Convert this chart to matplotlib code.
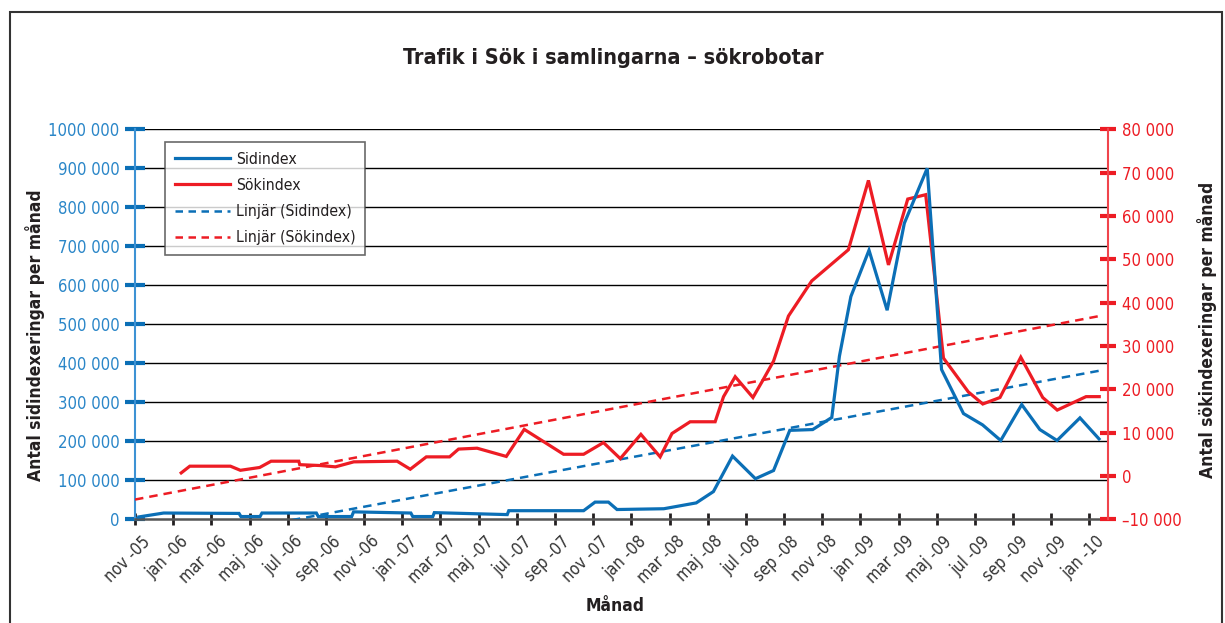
import matplotlib
matplotlib.use("Agg")
import matplotlib.pyplot as plt
import matplotlib.transforms as mtransforms
from matplotlib.patches import Rectangle
from matplotlib.lines import Line2D

plt.rcParams["font.family"] = ["DejaVu Sans"]
plt.rcParams["font.stretch"] = "condensed"

BLUE = "#0b6fb6"
BLUE_TXT = "#2a86c8"
RED = "#ed1c24"
DARK = "#231f20"

# x = months after nov-05 (date axis, points are not evenly spaced)
month_labels = [
    "nov -05", "jan -06", "mar -06", "maj -06", "jul -06", "sep -06",
    "nov -06", "jan -07", "mar -07", "maj -07", "jul -07", "sep -07",
    "nov -07", "jan -08", "mar -08", "maj -08", "jul -08", "sep -08",
    "nov -08", "jan -09", "mar -09", "maj -09", "jul -09", "sep -09",
    "nov -09", "jan -10",
]

sid_x = [0.2, 1.5, 5.45, 5.55, 6.55, 6.65, 9.5, 9.6, 11.35, 11.45, 14.45,
         14.55, 15.6, 15.68, 19.5, 19.58, 23.5, 24.1, 24.8, 25.25, 27.7,
         29.4, 30.3, 31.3, 32.5, 33.45, 34.3, 35.5, 36.5, 36.9, 37.5, 38.45,
         39.4, 40.3, 41.5, 42.25, 43.4, 44.4, 45.35, 46.45, 47.4, 48.3,
         49.5, 50.5]
sid_y = [6000, 16000, 15000, 7000, 7000, 16000, 16000, 7000, 7000, 19000,
         16000, 7000, 7000, 17000, 12000, 22000, 22000, 44000, 44000, 25000,
         27000, 42000, 71000, 162000, 104000, 125000, 228000, 230000, 261000,
         418000, 571000, 690000, 536000, 759000, 900000, 384000, 271000,
         242000, 202000, 294000, 230000, 202000, 260000, 206000]

sok_x = [2.42, 2.87, 5.0, 5.52, 6.53, 7.13, 8.58, 8.63, 9.71, 10.5, 11.46,
         13.73, 14.42, 15.26, 16.48, 16.95, 17.92, 19.45, 20.39, 22.45, 23.5,
         24.54, 25.42, 26.5, 27.51, 28.13, 29.08, 30.39, 30.83, 31.44, 32.37,
         32.84, 33.45, 34.23, 35.45, 37.37, 38.42, 39.47, 40.48, 41.42, 42.35,
         43.65, 44.41, 45.31, 46.4, 47.55, 48.31, 49.82, 50.51]
sok_y = [700, 2250, 2250, 1300, 1950, 3400, 3400, 2600, 2400, 2100, 3250,
         3400, 1550, 4400, 4400, 6200, 6400, 4500, 10750, 5000, 5000, 7700,
         4000, 9600, 4400, 9800, 12500, 12500, 18300, 22900, 18100, 21700,
         26500, 36900, 45000, 52200, 68200, 48700, 63900, 64900, 27200, 19400,
         16600, 18100, 27400, 18100, 15200, 18300, 18300]

# linear trend lines, endpoints
trend_x = [0, 50.64]
sid_trend = [-76500, 382000]
sok_trend = [-5450, 37000]

left_ticks = [0, 100000, 200000, 300000, 400000, 500000, 600000, 700000,
              800000, 900000, 1000000]
left_labels = ["0", "100 000", "200 000", "300 000", "400 000", "500 000",
               "600 000", "700 000", "800 000", "900 000", "1000 000"]
right_ticks = [-10000, 0, 10000, 20000, 30000, 40000, 50000, 60000, 70000,
               80000]
right_labels = ["–10 000", "0", "10 000", "20 000", "30 000", "40 000",
                "50 000", "60 000", "70 000", "80 000"]

fig = plt.figure(figsize=(12.25, 6.23), dpi=100)
ax = fig.add_axes([0.1102, 0.1665, 0.7943, 0.626])
ax2 = ax.twinx()

ax.set_xlim(0, 50.97)
ax.set_ylim(0, 1000000)
ax2.set_ylim(-10000, 80000)

for v in left_ticks[1:]:
    ax.axhline(v, color="black", lw=1.0, zorder=0.5)

ax2.plot(trend_x, sid_trend, color=BLUE, lw=1.8, dashes=(3.4, 2.4),
         transform=ax.transData, zorder=2)
ax2.plot(trend_x, sok_trend, color=RED, lw=1.8, dashes=(3.4, 2.4), zorder=2)
ax2.plot(sok_x, sok_y, color=RED, lw=2.3, zorder=3, solid_joinstyle="miter")
ax2.plot(sid_x, sid_y, color=BLUE, lw=2.3, transform=ax.transData, zorder=4,
         solid_joinstyle="miter")

# axes styling
for a in (ax, ax2):
    a.spines["top"].set_visible(False)
ax.spines["right"].set_visible(False)
ax2.spines["left"].set_visible(False)
ax2.spines["bottom"].set_visible(False)
ax.spines["left"].set_color("#3d92d4")
ax.spines["left"].set_linewidth(1.5)
ax2.spines["right"].set_color("#f0444c")
ax2.spines["right"].set_linewidth(1.5)
ax.spines["bottom"].set_color("#555555")
ax.spines["bottom"].set_linewidth(1.8)

ax.set_yticks(left_ticks)
ax.set_yticklabels(left_labels)
ax.tick_params(axis="y", direction="inout", length=14, width=3, color=BLUE,
               labelcolor=BLUE_TXT, labelsize=12, pad=4)
ax2.set_yticks(right_ticks)
ax2.set_yticklabels(right_labels)
ax2.tick_params(axis="y", direction="inout", length=12, width=3, color=RED,
                labelcolor=RED, labelsize=12, pad=4)

ax.set_xticks(range(0, 51, 2))
ax.set_xticklabels(month_labels, rotation=45, ha="right",
                   rotation_mode="anchor")
ax.tick_params(axis="x", direction="inout", length=9, width=2, color=DARK,
               labelcolor="#333333", labelsize=12, pad=5)
shift = mtransforms.ScaledTranslation(6 / 100, 0, fig.dpi_scale_trans)
for lbl in ax.get_xticklabels():
    lbl.set_transform(lbl.get_transform() + shift)

fig.text(0.0285, 0.462, "Antal sidindexeringar per månad", rotation=90,
         ha="center", va="center", fontsize=12.5, fontweight="bold",
         color=DARK)
fig.text(0.985, 0.47, "Antal sökindexeringar per månad", rotation=90,
         ha="center", va="center", fontsize=12.5, fontweight="bold",
         color=DARK)
fig.text(0.502, 0.028, "Månad", ha="center", va="center", fontsize=12.5,
         fontweight="bold", color=DARK)
fig.text(0.501, 0.898, "Trafik i Sök i samlingarna – sökrobotar",
         ha="center", va="baseline", fontsize=15.5, fontweight="bold",
         color=DARK)

handles = [
    Line2D([], [], color=BLUE, lw=2.3),
    Line2D([], [], color=RED, lw=2.3),
    Line2D([], [], color=BLUE, lw=1.8, dashes=(3, 2.2)),
    Line2D([], [], color=RED, lw=1.8, dashes=(3, 2.2)),
]
names = ["Sidindex", "Sökindex", "Linjär (Sidindex)", "Linjär (Sökindex)"]
leg = ax2.legend(handles, names, loc="upper left",
                 bbox_to_anchor=(0.031, 0.967), fontsize=11.3,
                 frameon=True, fancybox=False, edgecolor="#444444",
                 handlelength=3.5, handletextpad=0.4, labelspacing=0.72,
                 borderpad=0.6, borderaxespad=0)
leg.get_frame().set_linewidth(1.2)
for t in leg.get_texts():
    t.set_color(DARK)

# outer frame of the chart
fig.patches.append(Rectangle((10 / 1225, -0.05), 1212 / 1225,
                             1.05 - 12 / 623, transform=fig.transFigure,
                             fill=False, edgecolor="#333333", lw=1.5))

fig.savefig("out.png", dpi=100)
